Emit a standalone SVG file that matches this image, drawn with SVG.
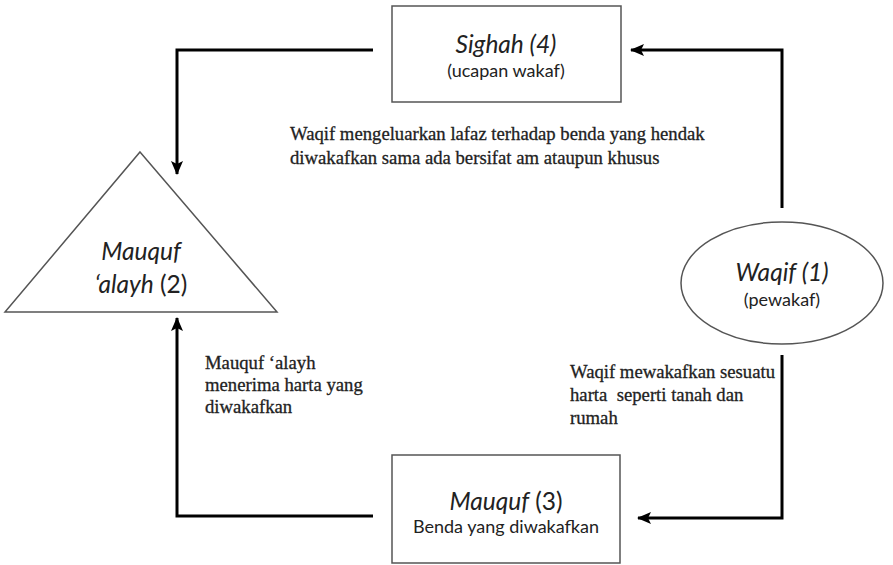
<svg xmlns="http://www.w3.org/2000/svg" width="893" height="565" viewBox="0 0 893 565">
<style>
.shape{fill:#fff;stroke:#555;stroke-width:1.5}
.conn{fill:none;stroke:#000;stroke-width:3}
.ttl{font-family:Lato,"Liberation Sans",sans-serif;font-size:24.5px;fill:#222}
.sub{font-family:Lato,"Liberation Sans",sans-serif;font-size:18px;fill:#222}
.note{font-family:"Liberation Serif",serif;font-size:18.7px;fill:#222;stroke:#222;stroke-width:0.3}
.it{font-style:italic}
</style>
<defs>
<marker id="ah" markerUnits="userSpaceOnUse" markerWidth="14" markerHeight="12" refX="13" refY="6" orient="auto">
<path d="M0,0 L14,6 L0,12 L3,6 z" fill="#000"/>
</marker>
</defs>
<rect width="893" height="565" fill="#fff"/>
<g id="connectors">
<polyline class="conn" points="782,208 782,50 631,50" marker-end="url(#ah)"/>
<polyline class="conn" points="373,50 177,50 177,174" marker-end="url(#ah)"/>
<polyline class="conn" points="782,355 782,518 638,518" marker-end="url(#ah)"/>
<polyline class="conn" points="373,516 177,516 177,318" marker-end="url(#ah)"/>
</g>
<g id="sighah">
<rect class="shape" x="392" y="6" width="229" height="96"/>
<text class="ttl it" x="506" y="53" text-anchor="middle">Sighah (4)</text>
<text class="sub" x="506" y="77" text-anchor="middle">(ucapan wakaf)</text>
</g>
<g id="mauquf-alayh">
<polygon class="shape" points="140,152 277,312 5,312"/>
<text class="ttl it" x="141" y="260" text-anchor="middle">Mauquf</text>
<text class="ttl" x="141" y="293" text-anchor="middle"><tspan class="it">‘alayh</tspan> (2)</text>
</g>
<g id="waqif">
<ellipse class="shape" cx="782" cy="283" rx="101" ry="61"/>
<text class="ttl it" x="782" y="281" text-anchor="middle">Waqif (1)</text>
<text class="sub" x="782" y="306" text-anchor="middle">(pewakaf)</text>
</g>
<g id="mauquf">
<rect class="shape" x="392" y="455" width="228" height="108"/>
<text class="ttl" x="506" y="510" text-anchor="middle"><tspan class="it">Mauquf</tspan> (3)</text>
<text class="sub" x="506" y="533" text-anchor="middle">Benda yang diwakafkan</text>
</g>
<g id="notes">
<text class="note" x="290" y="140">Waqif mengeluarkan lafaz terhadap benda yang hendak</text>
<text class="note" x="290" y="164">diwakafkan sama ada bersifat am ataupun khusus</text>
<text class="note" x="205" y="369">Mauquf ‘alayh</text>
<text class="note" x="205" y="391">menerima harta yang</text>
<text class="note" x="205" y="413">diwakafkan</text>
<text class="note" x="570" y="378" xml:space="preserve">Waqif mewakafkan sesuatu</text>
<text class="note" x="570" y="401" xml:space="preserve">harta  seperti tanah dan</text>
<text class="note" x="570" y="424">rumah</text>
</g>
</svg>
